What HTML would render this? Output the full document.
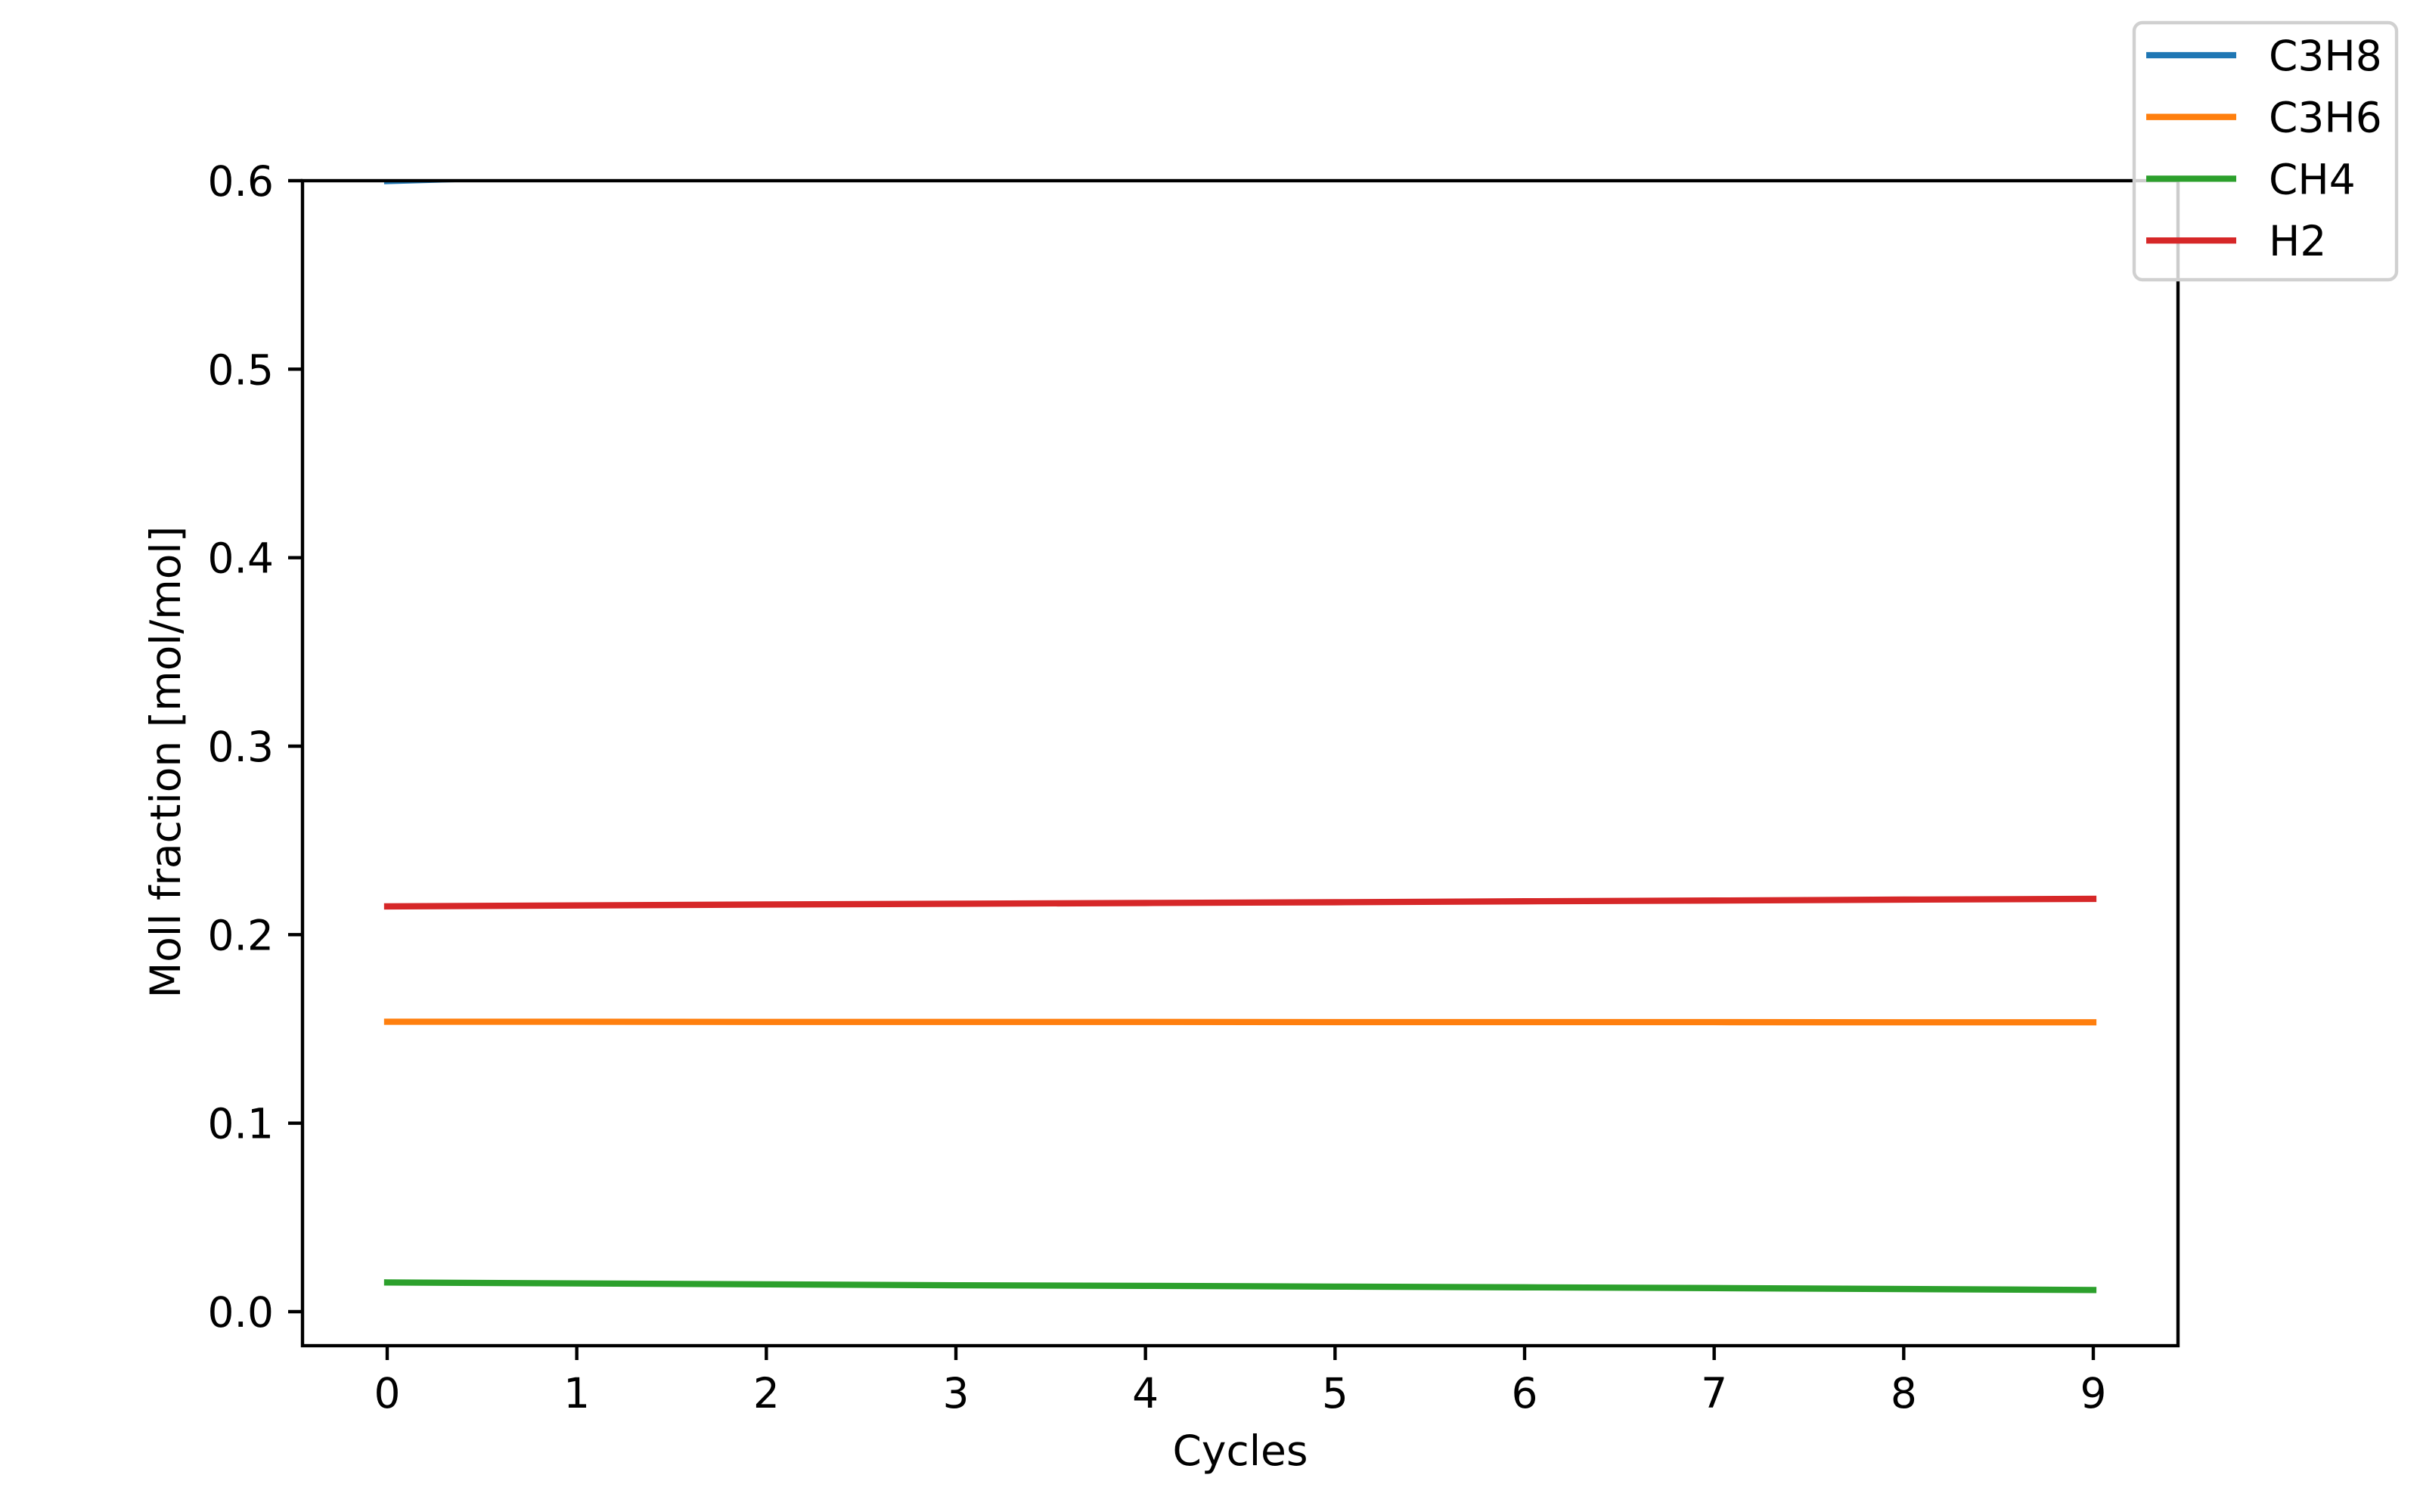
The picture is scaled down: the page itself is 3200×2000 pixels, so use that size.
<!DOCTYPE html>
<html><head><meta charset="utf-8"><style>
html,body{margin:0;padding:0;background:#fff;}
svg{display:block;font-family:"DejaVu Sans","Liberation Sans",sans-serif;}
</style></head><body>
<svg id="chart" width="3200" height="2000" viewBox="0 0 3200 2000"></svg>
<script>
const cycles = [0,1,2,3,4,5,6,7,8,9];
const seriesNames = ["C3H8","C3H6","CH4","H2"];
const seriesColors = ["#1f77b4","#ff7f0e","#2ca02c","#d62728"];
const c3h8 = [0.5998,0.6028,0.6050,0.6068,0.6082,0.6095,0.6106,0.6117,0.6127,0.6137];
const c3h6 = [0.1538,0.1538,0.1537,0.1537,0.1537,0.1536,0.1536,0.1536,0.1535,0.1535];
const ch4 = [0.0155,0.0150,0.0145,0.0140,0.0137,0.0133,0.0129,0.0125,0.0120,0.0115];
const h2 = [0.2150,0.2155,0.2160,0.2164,0.2168,0.2172,0.2177,0.2181,0.2186,0.2190];
const xTicks = [0,1,2,3,4,5,6,7,8,9];
const yTicks = [0.0,0.1,0.2,0.3,0.4,0.5,0.6];
const yTickLabels = ["0.0","0.1","0.2","0.3","0.4","0.5","0.6"];

const NS="http://www.w3.org/2000/svg";
const svg=document.getElementById('chart');
const L=400,R=2880,T=239,B=1780;
const X=v=>512+(v-0)*(2768-512)/9;
const Y=v=>1735-v*(1735-239)/0.6;
function mk(tag,attrs,parent){const e=document.createElementNS(NS,tag);for(const k in attrs)e.setAttribute(k,attrs[k]);(parent||svg).appendChild(e);return e;}

const defs=mk('defs',{});
const cp=mk('clipPath',{id:'clip'},defs);
mk('rect',{x:L,y:T,width:R-L,height:B-T},cp);

const allSeries=[c3h8,c3h6,ch4,h2];
const g=mk('g',{'clip-path':'url(#clip)'});


allSeries.forEach((s,i)=>{
  const p=mk('polyline',{points:s.map((v,j)=>X(cycles[j])+','+Y(v)).join(' '),fill:'none',stroke:seriesColors[i],'stroke-width':8.3,'stroke-linecap':'square'},g);
  
  
});

const frame=mk('rect',{x:L,y:T,width:R-L,height:B-T,fill:'none',stroke:'#000','stroke-width':4.4});



xTicks.forEach(t=>{
  const tk=mk('line',{x1:X(t),x2:X(t),y1:B,y2:B+19,stroke:'#000','stroke-width':4.4});
  
  
  const tx=mk('text',{x:X(t),y:1862,'font-size':55,'text-anchor':'middle'});
  tx.textContent=t;
  
  
});
yTicks.forEach((t,i)=>{
  const tk=mk('line',{x1:L-19,x2:L,y1:Y(t),y2:Y(t),stroke:'#000','stroke-width':4.4});
  
  
  const tx=mk('text',{x:362,y:Y(t)+20,'font-size':55,'text-anchor':'end'});
  tx.textContent=yTickLabels[i];
  
  
});

const xl=mk('text',{x:1640,y:1938,'font-size':55,'text-anchor':'middle'});
xl.textContent='Cycles';


const yl=mk('text',{x:0,y:0,'font-size':55,'text-anchor':'middle',transform:'translate(238,1008) rotate(-90)'});
yl.textContent='Moll fraction [mol/mol]';



const lg=mk('g',{});


mk('rect',{x:2822,y:30,width:347,height:340,rx:11,fill:'#fff','fill-opacity':0.8,stroke:'#d0d0d0','stroke-width':4.4},lg);
seriesNames.forEach((n,i)=>{
  const yy=73+i*81.7;
  const ln=mk('line',{x1:2838,x2:2957,y1:yy,y2:yy,stroke:seriesColors[i],'stroke-width':8.3},lg);
  
  
  const tx=mk('text',{x:3000,y:yy+20,'font-size':55},lg);
  tx.textContent=n;
  
  
});
</script>
</body></html>
